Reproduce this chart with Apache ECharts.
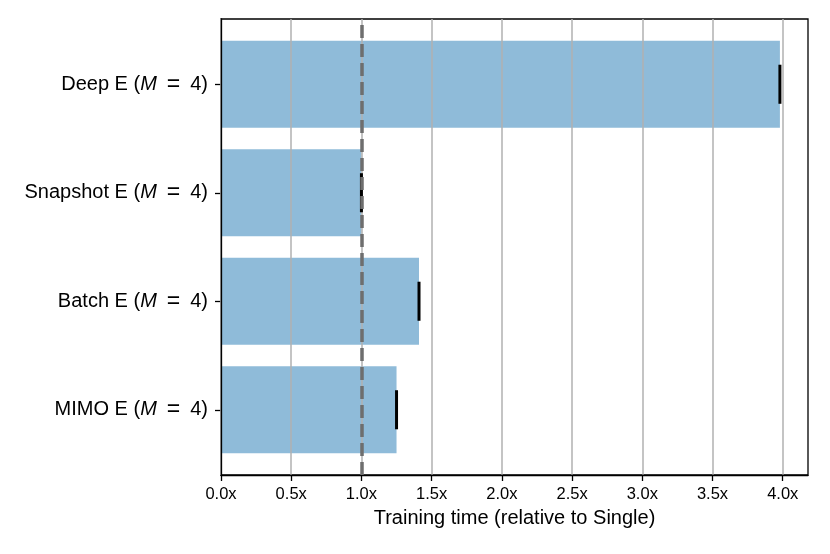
<!DOCTYPE html>
<html>
<head>
<meta charset="utf-8">
<script src="https://cdn.jsdelivr.net/npm/echarts@6/dist/echarts.min.js"></script>
<style>
  html, body { margin: 0; padding: 0; background: #fff; }
  #chart { width: 830px; height: 554px; }
</style>
</head>
<body>
<div id="chart"></div>
<script>
(function() {
  var myChart = echarts.init(document.getElementById('chart'));

  // data
  var methods = ['Deep E', 'Snapshot E', 'Batch E', 'MIMO E'];
  var ensembleSize = [4, 4, 4, 4];
  var trainTime = [3.98, 1.00, 1.41, 1.25];
  var xTicks = [0, 0.5, 1.0, 1.5, 2.0, 2.5, 3.0, 3.5, 4.0];
  var singleRef = 1.0;

  var errData = trainTime.map(function(v, i) { return [v, i]; });

  var font = 'Liberation Sans, Arial, Helvetica, sans-serif';

  var option = {
    animation: false,
    backgroundColor: '#fff',
    grid: [
      // outer frame (matplotlib axes box)
      {left: 221, right: 22, top: 19, bottom: 79, show: true,
       borderColor: '#000', borderWidth: 1.3, backgroundColor: 'transparent'},
      // inner grid holding the category bands (ylim -0.6 .. 3.6)
      {left: 221, right: 22, top: 30, bottom: 90}
    ],
    xAxis: [
      {
        type: 'value', gridIndex: 0, min: 0, max: 4.18, z: 3,
        name: 'Training time (relative to Single)',
        nameLocation: 'middle', nameGap: 33,
        nameTextStyle: {fontFamily: font, fontSize: 20, color: '#000'},
        axisLine: {show: true, lineStyle: {color: '#000', width: 1.3}},
        axisTick: {show: true, length: 6, customValues: xTicks,
                   lineStyle: {color: '#000', width: 1.3}},
        axisLabel: {customValues: xTicks, margin: 11, fontFamily: font,
                    fontSize: 16.5, color: '#000',
                    formatter: function(v) { return v.toFixed(1) + 'x'; }},
        splitLine: {show: true, lineStyle: {color: '#b0b0b0', width: 1.5}}
      },
      {
        type: 'value', gridIndex: 1, min: 0, max: 4.18, show: false
      }
    ],
    yAxis: [
      {
        type: 'value', gridIndex: 0, min: 0, max: 1, z: 10,
        axisLine: {show: true, lineStyle: {color: '#000', width: 1.3}},
        axisTick: {show: false}, axisLabel: {show: false}, splitLine: {show: false}
      },
      {
        type: 'category', gridIndex: 1, inverse: true, data: methods,
        axisLine: {show: false},
        axisTick: {show: true, alignWithLabel: true, length: 6,
                   lineStyle: {color: '#000', width: 1.3}},
        axisLabel: {
          margin: 13, fontFamily: font, fontSize: 20, color: '#000',
          formatter: function(v, i) {
            return '{t|' + v + ' (}{m|M}{e|=}{t|' + ensembleSize[i] + ')}';
          },
          rich: {
            t: {fontFamily: font, fontSize: 20, color: '#000'},
            m: {fontFamily: font, fontSize: 20, fontStyle: 'italic', color: '#000'},
            e: {fontFamily: font, fontSize: 23, color: '#000', padding: [0, 10, 0, 10]}
          }
        },
        splitLine: {show: false}
      }
    ],
    series: [
      {
        name: 'Training time',
        type: 'bar',
        xAxisIndex: 1, yAxisIndex: 1,
        data: trainTime,
        barWidth: '80%',
        itemStyle: {color: '#8fbbd9'},
        z: 2
      },
      {
        name: 'err',
        type: 'custom',
        xAxisIndex: 1, yAxisIndex: 1,
        data: errData,
        encode: {x: 0, y: 1},
        z: 4,
        renderItem: function(params, api) {
          var c = api.coord([api.value(0), api.value(1)]);
          var h = api.size([0, 1])[1] * 0.18;
          return {
            type: 'line',
            shape: {x1: c[0], y1: c[1] - h, x2: c[0], y2: c[1] + h},
            style: {stroke: '#000', lineWidth: 3}
          };
        }
      },
      {
        name: 'single',
        type: 'line',
        xAxisIndex: 0, yAxisIndex: 0,
        data: [],
        z: 6,
        markLine: {
          silent: true,
          symbol: 'none',
          label: {show: false},
          lineStyle: {color: '#6e6e6e', width: 3.5, type: [13, 6]},
          data: [{xAxis: singleRef}]
        }
      }
    ]
  };
  myChart.setOption(option);
})();
</script>
</body>
</html>
